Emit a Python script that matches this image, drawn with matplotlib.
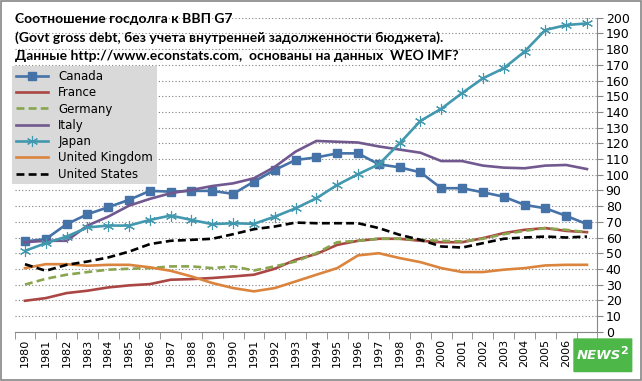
"""Соотношение госдолга к ВВП G7 — recreated chart."""

import numpy as np
import matplotlib.pyplot as plt
from matplotlib.patches import FancyBboxPatch, Rectangle

years = list(range(1980, 2008))

canada = [57.5, 59, 68.5, 74.8, 79.3, 84, 89.7, 89.2, 89.7, 89.7, 87.8, 95.6, 103,
          109.4, 111, 113.6, 113.6, 106.6, 104.7, 101.5, 91.4, 91.4, 88.8, 86, 80.8,
          78.6, 73.8, 68.5]
france = [19.7, 21.4, 24.6, 26.1, 28.2, 29.5, 30.3, 33.1, 33.5, 34.2, 35.2, 36.3, 40.1,
          45.8, 49.5, 55.3, 57.9, 59.2, 59.2, 57.9, 57, 57, 59.6, 62.8, 64.9, 66, 64.2,
          63.4]
germany = [30, 33.7, 36.3, 38, 39.5, 40.1, 40.5, 41.6, 41.6, 40.5, 41.6, 39, 41.6, 44.7,
           50, 57, 57.9, 59.2, 59.2, 58.5, 57.9, 57.5, 59.2, 62.1, 64.2, 66, 64.9, 63.4]
italy = [57, 57.9, 57.9, 67.6, 73.3, 80.3, 84.6, 88.2, 90.3, 92.8, 94.5, 97.7, 105,
         114.7, 121.5, 121, 120.5, 118, 116, 114, 108.7, 108.7, 105.8, 104.5, 104.1,
         105.8, 106.2, 103.6]
japan = [51.5, 56.4, 60.6, 66.4, 67.6, 67.6, 71.2, 74, 71.2, 68.5, 69.1, 68.7, 73.3,
         78.6, 85, 93.5, 100.3, 106.6, 120, 134.3, 142, 152, 161.4, 167.8, 178.4, 192.2,
         195.3, 196.4]
uk = [40.5, 43, 43, 42, 42.6, 42.6, 41, 38.8, 35.2, 31, 27.8, 25.7, 27.8, 32, 36.3, 40.5,
      48.6, 50, 46.9, 44.3, 40.5, 38, 38, 39.5, 40.5, 42.2, 42.6, 42.6]
usa = [43, 38.8, 42.6, 44.7, 47.3, 51, 55.8, 57.9, 58.5, 59.2, 62.1, 65.3, 67, 69.5,
       69.1, 69.1, 69.1, 66, 61.7, 58.5, 54.3, 53.6, 56.4, 59.2, 60, 60.6, 60, 60.6]

title_lines = [
    "Соотношение госдолга к ВВП G7",
    "(Govt gross debt, без учета внутренней задолженности бюджета).",
    "Данные http://www.econstats.com,  основаны на данных  WEO IMF?",
]


def main():
    fig = plt.figure(figsize=(6.42, 3.81), dpi=100)
    ax = fig.add_axes([0.0227, 0.1294, 0.9078, 0.8241])
    x = np.arange(len(years))

    lw = 1.9
    ax.plot(x, canada, color="#4572A7", lw=lw, marker="s", markersize=5.5,
            label="Canada", zorder=3)
    ax.plot(x, france, color="#AA4643", lw=lw, label="France", zorder=3)
    ax.plot(x, germany, color="#89A54E", lw=lw, ls=(0, (3, 1.6)), label="Germany",
            zorder=3)
    ax.plot(x, italy, color="#71588F", lw=lw, label="Italy", zorder=3)
    ax.plot(x, japan, color="#4198AF", lw=lw, marker=(6, 2, 0), markersize=8,
            markeredgewidth=0.8, markeredgecolor="#4198AF", label="Japan", zorder=3)
    ax.plot(x, uk, color="#DB843D", lw=lw, label="United Kingdom", zorder=3)
    ax.plot(x, usa, color="black", lw=lw, ls=(0, (3, 1.6)), label="United States",
            zorder=3)

    ax.set_xlim(-0.5, len(years) - 0.5)
    ax.set_ylim(0, 200)
    ax.set_yticks(np.arange(0, 201, 10))
    ax.yaxis.tick_right()
    ax.tick_params(axis="y", labelsize=9, length=4, color="#868686", pad=2)
    ax.grid(axis="y", color="#808080", ls=(0, (1, 2)), lw=0.8)
    ax.set_axisbelow(True)

    ax.set_xticks(x)
    ax.set_xticklabels([str(y) for y in years], rotation=90, fontsize=8)
    ax.set_xticks(np.arange(-0.5, len(years)), minor=True)
    ax.tick_params(axis="x", which="major", length=0, pad=5)
    ax.tick_params(axis="x", which="minor", length=5, color="#868686")

    for side in ("top", "left"):
        ax.spines[side].set_visible(False)
    for side in ("right", "bottom"):
        ax.spines[side].set_color("#868686")

    leg = ax.legend(loc="upper left", bbox_to_anchor=(-0.004, 0.845), fontsize=8.5,
                    frameon=True, fancybox=False, handlelength=2.7, labelspacing=0.28,
                    borderpad=0.3, handletextpad=0.9, borderaxespad=0)
    leg.get_frame().set_facecolor("#D9D9D9")
    leg.get_frame().set_edgecolor("none")
    leg.get_frame().set_alpha(1)

    for i, line in enumerate(title_lines):
        fig.text(0.024, 0.95 - i * 0.049, line, fontsize=10, fontweight="bold",
                 family="Lato", va="center", ha="left")

    # logo box in the lower right corner
    logo = FancyBboxPatch((0.895, 0.025), 0.088, 0.085, transform=fig.transFigure,
                          boxstyle="round,pad=0.002", facecolor="#4DB848",
                          edgecolor="none", zorder=5)
    fig.patches.append(logo)
    fig.text(0.932, 0.066, "NEWS", color="white", fontsize=9.5, fontweight="bold",
             style="italic", ha="center", va="center", zorder=6)
    fig.text(0.972, 0.078, "2", color="white", fontsize=8, fontweight="bold",
             ha="center", va="center", zorder=6)

    border = Rectangle((0.001, 0.002), 0.997, 0.995, transform=fig.transFigure,
                       fill=False, edgecolor="#868686", lw=1.2)
    fig.patches.append(border)

    fig.savefig("out.png", dpi=100)


if __name__ == "__main__":
    main()
